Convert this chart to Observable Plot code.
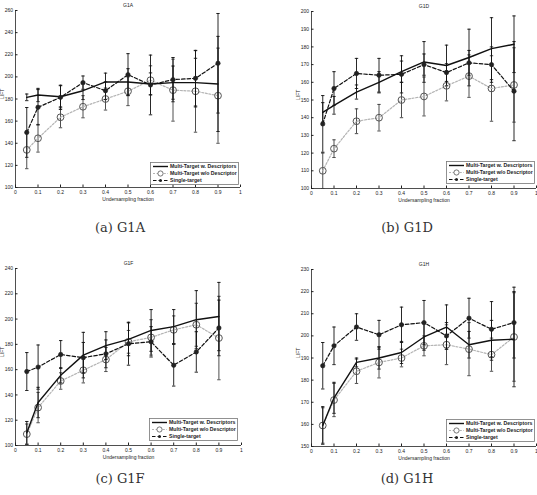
<!DOCTYPE html>
<html>
<head>
<meta charset="utf-8">
<script src="https://cdn.jsdelivr.net/npm/d3@7"></script>
<script src="https://cdn.jsdelivr.net/npm/@observablehq/plot@0.6"></script>
<style>
  body { margin: 0; background: #fff; width: 537px; height: 495px; position: relative; overflow: hidden; font-family: "Liberation Sans", Arial, sans-serif; }
  .panel { position: absolute; }
  .caption { position: absolute; font-family: "DejaVu Serif", "Liberation Serif", serif; font-size: 13px; color: #333; transform: translateX(-50%); white-space: nowrap; }
  .legend { position: absolute; }
</style>
</head>
<body>
<script>
// ---- shared x values and ticks ----
const fractions = [0.05, 0.1, 0.2, 0.3, 0.4, 0.5, 0.6, 0.7, 0.8, 0.9];
const xTicks = [0, 0.1, 0.2, 0.3, 0.4, 0.5, 0.6, 0.7, 0.8, 0.9, 1];
const seriesNames = ["Multi-Target w. Descriptors", "Multi-Target w/o Descriptor", "Single-target"];

// ---- G1A ----
const g1aWith = [181.5, 183.6, 182, 187.5, 195.4, 195.4, 193.6, 194.8, 194.8, 193.6];
const g1aWithErr = [3, 6, 10, 8, 8, 12, 10, 15, 22, 43];
const g1aWithout = [134, 144.5, 163.5, 173, 180, 187, 197, 188, 187, 183];
const g1aWithoutErr = [17, 12.5, 9.5, 10, 10, 13, 13, 28, 37, 43];
const g1aSingle = [149.8, 172.5, 181.5, 194.8, 187.5, 202, 192.7, 197.5, 198.7, 212.3];
const g1aSingleErr = [22.5, 16, 11, 6, 8, 19, 27, 20, 25, 45];
const g1aYTicks = [100, 120, 140, 160, 180, 200, 220, 240, 260];

// ---- G1D ----
const g1dWith = [143, 147, 154.5, 160, 166, 171.5, 169.5, 174, 179, 181.5];
const g1dWithErr = [5.5, 5, 4, 6, 6, 11.5, 11.5, 16, 17.5, 16];
const g1dWithout = [110, 122.5, 138, 140, 150, 152, 158, 163.5, 156.5, 158.5];
const g1dWithoutErr = [10, 5, 7, 7.5, 10, 11, 8.5, 12, 18.5, 21];
const g1dSingle = [136.5, 156.5, 165, 164, 164.5, 170, 165.5, 171, 170, 155];
const g1dSingleErr = [16, 9.5, 8.5, 9.5, 10.5, 6, 5, 7, 10, 28];
const g1dYTicks = [100, 110, 120, 130, 140, 150, 160, 170, 180, 190, 200];

// ---- G1F ----
const g1fWith = [110, 134, 155.5, 171.5, 179, 184, 191, 194, 199.5, 202];
const g1fWithErr = [9, 12, 6, 18, 11, 13, 16.5, 13.5, 23, 27];
const g1fWithout = [109, 130, 151, 159.5, 168, 182, 185.5, 191.5, 195.5, 185];
const g1fWithoutErr = [8, 12, 6.5, 10, 9.5, 9, 14, 11, 17, 33];
const g1fSingle = [158.5, 162, 172, 169.5, 172.5, 180.5, 182, 163.5, 174, 193];
const g1fSingleErr = [15, 17.5, 11, 12, 11, 17, 12, 16.5, 16, 22];
const g1fYTicks = [100, 120, 140, 160, 180, 200, 220, 240];

// ---- G1H ----
const g1hWith = [159.5, 172, 188, 190, 192.5, 199.5, 204, 196, 198, 198.5];
const g1hWithErr = [8.5, 7, 2, 5, 5, 6, 10, 6, 9, 21.5];
const g1hWithout = [159.5, 171, 184, 188, 190, 195.5, 196, 194, 191.5, 199.5];
const g1hWithoutErr = [8, 7.5, 5.5, 7, 4, 4.5, 9, 12, 7.5, 20];
const g1hSingle = [186.5, 195.5, 204, 200.5, 205, 206, 200, 208, 203, 206];
const g1hSingleErr = [10.5, 8.5, 6, 6.5, 8, 10, 6, 9, 12.5, 16];
const g1hYTicks = [150, 160, 170, 180, 190, 200, 210, 220, 230];

const captions = ["(a) G1A", "(b) G1D", "(c) G1F", "(d) G1H"];

// ---- styles ----
const styles = {
  with:    {stroke: "#111", strokeWidth: 1.4, dash: null, barStroke: "#111"},
  without: {stroke: "#b4b4b4", strokeWidth: 1.2, dash: "2,1.6", barStroke: "#3a3a3a"},
  single:  {stroke: "#111", strokeWidth: 1.2, dash: "3.5,2", barStroke: "#111"}
};

const cap = { draw(ctx, size) { const w = Math.sqrt(size / Math.PI); ctx.moveTo(-w, 0); ctx.lineTo(w, 0); } };

function rows(vals, errs) {
  return fractions.map((x, i) => ({x, y: vals[i], lo: vals[i] - errs[i], hi: vals[i] + errs[i]}));
}

function seriesMarks(data, st, kind) {
  const m = [
    Plot.ruleX(data, {x: "x", y1: "lo", y2: "hi", stroke: st.barStroke, strokeWidth: 0.9}),
    Plot.dot(data, {x: "x", y: "lo", symbol: cap, r: 1.7, stroke: st.barStroke, strokeWidth: 0.9, fill: "none"}),
    Plot.dot(data, {x: "x", y: "hi", symbol: cap, r: 1.7, stroke: st.barStroke, strokeWidth: 0.9, fill: "none"}),
    Plot.line(data, {x: "x", y: "y", stroke: st.stroke, strokeWidth: st.strokeWidth, strokeDasharray: st.dash})
  ];
  if (kind === "without") m.push(Plot.dot(data, {x: "x", y: "y", r: 3.4, stroke: "#555", strokeWidth: 1, fill: "none"}));
  if (kind === "single") m.push(Plot.dot(data, {x: "x", y: "y", r: 2.2, fill: "#222", stroke: "#222", strokeWidth: 0.6}));
  return m;
}

function makePanel(p) {
  const yMin = p.yTicks[0], yMax = p.yTicks[p.yTicks.length - 1];
  const chart = Plot.plot({
    width: p.width, height: 205,
    marginLeft: p.ml, marginRight: p.mr, marginTop: 10, marginBottom: 18,
    style: {fontFamily: "Liberation Sans, Arial, sans-serif", fontSize: "5px", color: "#222", background: "transparent"},
    x: {domain: [0, 1]},
    y: {domain: [yMin, yMax]},
    marks: [
      Plot.axisX({ticks: xTicks, tickFormat: d => String(d), tickSize: -2.5, tickPadding: 5.5, fontSize: 5, label: null, stroke: "#222"}),
      Plot.axisY({ticks: p.yTicks, tickFormat: d => String(d), tickSize: -2.5, tickPadding: 5, fontSize: 5, label: null, stroke: "#222"}),
      Plot.ruleX([0], {stroke: "#222", strokeWidth: 0.8}),
      Plot.ruleY([yMin], {stroke: "#222", strokeWidth: 0.8}),
      ...seriesMarks(rows(p.without, p.withoutErr), styles.without, "without"),
      ...seriesMarks(rows(p.with, p.withErr), styles.with, "with"),
      ...seriesMarks(rows(p.single, p.singleErr), styles.single, "single"),
      Plot.text([p.title], {frameAnchor: "top", dy: -7, fontSize: 5, fill: "#222"}),
      Plot.text(["Undersampling fraction"], {frameAnchor: "bottom", dy: 13.5, fontSize: 5, fill: "#222"}),
      Plot.text(["LIFT"], {frameAnchor: "left", dx: -13, rotate: -90, fontSize: 5, fill: "#222"})
    ]
  });
  chart.classList.add("panel");
  chart.style.left = p.left + "px";
  chart.style.top = p.top + "px";
  document.body.appendChild(chart);

  // legend box inside the plot, lower right
  const lg = d3.select(document.body).append("svg").attr("class", "legend")
    .attr("width", 90).attr("height", 24)
    .style("left", p.legLeft + "px").style("top", p.legTop + "px");
  lg.append("rect").attr("x", 0.5).attr("y", 0.5).attr("width", 88).attr("height", 22)
    .attr("fill", "#fff").attr("stroke", "#777").attr("stroke-width", 0.8);
  const keys = ["with", "without", "single"];
  keys.forEach((k, i) => {
    const yy = 4.5 + i * 7;
    const st = styles[k];
    lg.append("line").attr("x1", 3).attr("x2", 18).attr("y1", yy).attr("y2", yy)
      .attr("stroke", st.stroke).attr("stroke-width", st.strokeWidth)
      .attr("stroke-dasharray", st.dash);
    if (k === "without") lg.append("circle").attr("cx", 10.5).attr("cy", yy).attr("r", 2.6).attr("fill", "#fff").attr("stroke", "#555").attr("stroke-width", 0.8);
    if (k === "single") lg.append("circle").attr("cx", 10.5).attr("cy", yy).attr("r", 1.5).attr("fill", "#222");
    lg.append("text").attr("x", 20).attr("y", yy + 1.8).attr("font-size", 5.2).attr("font-weight", "bold")
      .attr("font-family", "Liberation Sans, Arial, sans-serif").attr("fill", "#222").text(seriesNames[i]);
  });
}

const panels = [
  {title: "G1A", left: 0, top: 0, width: 268, ml: 15, mr: 28, yTicks: g1aYTicks,
   with: g1aWith, withErr: g1aWithErr, without: g1aWithout, withoutErr: g1aWithoutErr, single: g1aSingle, singleErr: g1aSingleErr,
   legLeft: 150, legTop: 162},
  {title: "G1D", left: 268, top: 1, width: 269, ml: 43, mr: 1, yTicks: g1dYTicks,
   with: g1dWith, withErr: g1dWithErr, without: g1dWithout, withoutErr: g1dWithoutErr, single: g1dSingle, singleErr: g1dSingleErr,
   legLeft: 446, legTop: 161},
  {title: "G1F", left: 0, top: 258, width: 268, ml: 15, mr: 27, yTicks: g1fYTicks,
   with: g1fWith, withErr: g1fWithErr, without: g1fWithout, withoutErr: g1fWithoutErr, single: g1fSingle, singleErr: g1fSingleErr,
   legLeft: 149, legTop: 418},
  {title: "G1H", left: 268, top: 259, width: 269, ml: 43, mr: 1, yTicks: g1hYTicks,
   with: g1hWith, withErr: g1hWithErr, without: g1hWithout, withoutErr: g1hWithoutErr, single: g1hSingle, singleErr: g1hSingleErr,
   legLeft: 446, legTop: 419}
];
panels.forEach(makePanel);

const capPos = [[120, 220], [407, 220], [120, 471], [407, 471]];
captions.forEach((c, i) => {
  const d = document.createElement("div");
  d.className = "caption";
  d.textContent = c;
  d.style.left = capPos[i][0] + "px";
  d.style.top = capPos[i][1] + "px";
  document.body.appendChild(d);
});
</script>
</body>
</html>
